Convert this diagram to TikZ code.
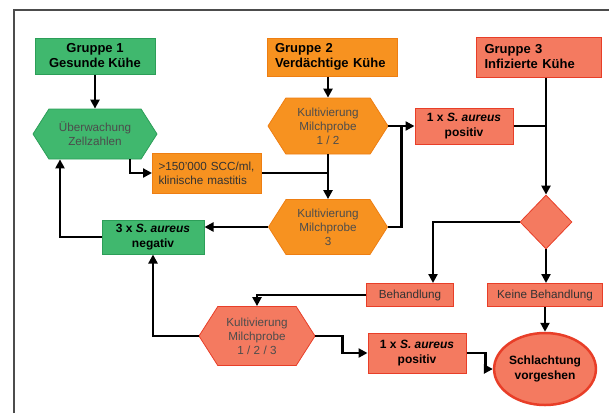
\documentclass[tikz,border=0pt]{standalone}
\usepackage{fontspec}
\setmainfont{Liberation Sans}
\usepackage{xcolor}
\usetikzlibrary{shapes.geometric, shapes.symbols, arrows.meta, calc}

\definecolor{gruen}{RGB}{64,184,110}
\definecolor{gruenrand}{RGB}{44,158,88}
\definecolor{orangeb}{RGB}{247,146,32}
\definecolor{orangerand}{RGB}{238,126,18}
\definecolor{lachs}{RGB}{244,122,96}
\definecolor{rot}{RGB}{232,62,40}

\begin{document}
\begin{tikzpicture}[x=1pt, y=-1pt,
    grp/.style={rectangle, draw, line width=1pt, inner sep=0pt,
        font=\fontsize{13}{15}\selectfont\bfseries},
    box/.style={rectangle, draw, line width=1pt, inner sep=0pt, align=center,
        font=\fontsize{11.7}{14}\selectfont, text=black!80},
    fett/.style={box, font=\fontsize{12}{15}\selectfont\bfseries, text=black},
    hexa/.style={signal, signal to=east and west, signal pointer angle=115,
        draw, line width=0.8pt, inner sep=0pt, align=center,
        font=\fontsize{11.7}{14}\selectfont, text=black!70},
    pfeil/.style={line width=2.6pt, -{Triangle[length=9pt,width=9pt]}},
    linie/.style={line width=2.6pt}]
    \useasboundingbox (0,0) rectangle (609,413);
    \draw[black!70, line width=1.5pt] (14,413) -- (14,10) -- (609,10);

    % Gruppe 1
    \node[grp, fill=gruen, draw=gruenrand, minimum width=120pt, minimum height=36pt,
        align=center] (g1) at (95,56) {Gruppe 1\\Gesunde Kühe};
    \node[hexa, fill=gruen, draw=gruenrand, minimum width=124pt, minimum height=50pt]
        (ueb) at (95,134) {Überwachung\\Zellzahlen};
    \node[box, fill=orangeb, draw=orangerand, minimum width=109pt, minimum height=40pt,
        text width=97pt, align=left] (scc) at (207,173) {>150'000 SCC/ml,\\klinische mastitis};
    \node[fett, fill=gruen, draw=gruenrand, minimum width=102pt, minimum height=34pt]
        (neg) at (153,237) {3 x \textit{S. aureus}\\negativ};

    % Gruppe 2
    \node[grp, fill=orangeb, draw=orangerand, minimum height=38pt, text width=114pt,
        inner xsep=8pt, align=left] (g2) at (332,57) {Gruppe 2\\Verdächtige Kühe};
    \node[hexa, fill=orangeb, draw=orangerand, minimum width=120pt, minimum height=56pt]
        (kult12) at (328,126) {Kultivierung\\Milchprobe\\1 / 2};
    \node[hexa, fill=orangeb, draw=orangerand, minimum width=119pt, minimum height=55pt]
        (kult3) at (328,227) {Kultivierung\\Milchprobe\\3};

    % Gruppe 3
    \node[grp, fill=lachs, draw=rot, minimum height=40pt, text width=109pt,
        inner xsep=8pt, align=left] (g3) at (539,57) {Gruppe 3\\Infizierte Kühe};
    \node[fett, fill=lachs, draw=rot, minimum width=98pt, minimum height=36pt]
        (pos1) at (464,126) {1 x \textit{S. aureus}\\positiv};
    \node[diamond, fill=lachs, draw=rot, line width=0.8pt, inner sep=0pt,
        minimum width=52pt, minimum height=54pt] (dia) at (546,222) {};
    \node[box, fill=lachs, draw=rot, minimum width=87pt, minimum height=23pt]
        (beh) at (410,295) {Behandlung};
    \node[box, fill=lachs, draw=rot, minimum width=115pt, minimum height=23pt]
        (keine) at (545,295) {Keine Behandlung};
    \node[hexa, fill=lachs, draw=rot, minimum width=116pt, minimum height=59pt]
        (kult123) at (257,336) {Kultivierung\\Milchprobe\\1 / 2 / 3};
    \node[fett, fill=lachs, draw=rot, minimum width=98pt, minimum height=40pt]
        (pos2) at (417,353) {1 x \textit{S. aureus}\\positiv};
    \node[ellipse, fill=lachs, draw=rot, line width=2.5pt, inner sep=0pt,
        minimum width=83pt, minimum height=72pt, align=center,
        font=\fontsize{12}{15}\selectfont\bfseries] (schl) at (545,369) {Schlachtung\\vorgeshen};

    % Verbindungen
    \draw[pfeil] (g1.south) -- (ueb.north);
    \draw[pfeil] ($(ueb.south)+(35,0)$) |- (scc.west);
    \draw[linie] (scc.east) -- (scc.east -| kult12.south);
    \draw[pfeil] (g2.south -| kult12.north) -- (kult12.north);
    \draw[pfeil] (kult12.south) -- (kult3.north);
    \draw[pfeil] (kult12.east) -- (pos1.west);
    \draw[linie] (kult3.east) -| ($(kult12.east)!0.5!(pos1.west)$);
    \draw[pfeil] (kult3.west) -- (kult3.west -| neg.east);
    \draw[pfeil] (neg.west) -| ($(ueb.south)+(-35,0)$);
    \draw[pfeil] (g3.south -| dia.north) -- (dia.north);
    \draw[linie] (pos1.east) -- (pos1.east -| dia.north);
    \draw[pfeil] (dia.west) -| ($(beh.north)+(23,0)$);
    \draw[pfeil] (dia.south) -- (keine.north -| dia.south);
    \draw[pfeil] (keine.south) -- (schl.north);
    \draw[pfeil] (beh.west) -| (kult123.north);
    \draw[pfeil] (kult123.west) -| (neg.south);
    \draw[pfeil] (kult123.east) -- ++(27,0) |- (pos2.west);
    \draw[pfeil] (pos2.east) -- ++(19,0) |- (schl.west);
\end{tikzpicture}
\end{document}
